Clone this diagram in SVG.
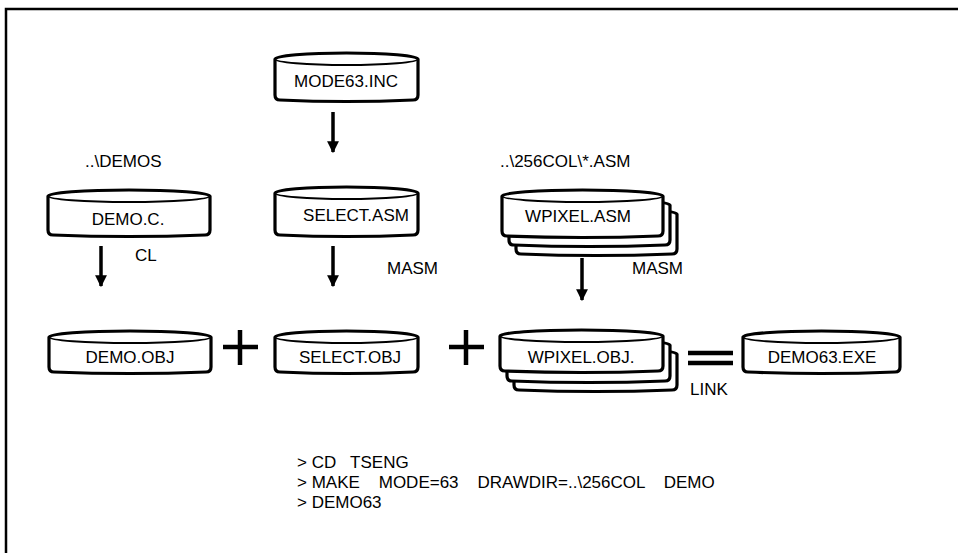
<svg xmlns="http://www.w3.org/2000/svg" width="961" height="553" viewBox="0 0 961 553">
<defs>
<style>
.disk{fill:#fff;stroke:#000;stroke-width:3.2;stroke-linejoin:round}
.rim{fill:none;stroke:#000;stroke-width:1.8}
.t{font-family:"Liberation Sans",Arial,sans-serif;font-size:17px;fill:#000}
.c{text-anchor:middle}
.ln{stroke:#000;stroke-width:3.5;fill:none}
.op{stroke:#000;stroke-width:4.5;fill:none}
.frame{stroke:#000;stroke-width:2.5;fill:none}
</style>
<marker id="ah" viewBox="0 0 10 10" refX="9" refY="5" markerWidth="3.4" markerHeight="3.6" orient="auto" markerUnits="strokeWidth">
<path d="M0,0 L10,5 L0,10 Z" fill="#000"/>
</marker>
</defs>
<rect width="961" height="553" fill="#fff"/>
<path class="frame" d="M6,553 L6,9 L958,9"/>

<g id="mode63inc">
<path class="disk" d="M275,59 A71.5,6 0 0 1 418,59 L418,95 Q418,100 413,100 Q346,103 280,100 Q275,100 275,95 Z"/>
<path class="rim" d="M275,59 A71.5,6 0 0 0 418,59"/>
<text class="t c" x="346" y="87">MODE63.INC</text>
</g>

<text class="t" x="85" y="167">..\DEMOS</text>
<text class="t" x="500" y="167">..\256COL\*.ASM</text>

<g id="democ">
<path class="disk" d="M48,196 A81,6 0 0 1 210,196 L210,230 Q210,235 205,235 Q129,238 53,235 Q48,235 48,230 Z"/>
<path class="rim" d="M48,196 A81,6 0 0 0 210,196"/>
<text class="t c" x="128" y="225">DEMO.C.</text>
</g>

<g id="selectasm">
<path class="disk" d="M275,193 A71.5,6 0 0 1 418,193 L418,230 Q418,235 413,235 Q346,238 280,235 Q275,235 275,230 Z"/>
<path class="rim" d="M275,193 A71.5,6 0 0 0 418,193"/>
<text class="t c" x="356" y="221">SELECT.ASM</text>
</g>

<g id="wpixelasm">
<path class="disk" d="M516,214 A80.5,6 0 0 1 677,214 L677,249 Q677,254 672,254 Q596,257 521,254 Q516,254 516,249 Z"/>
<path class="disk" d="M509,205 A80.5,6 0 0 1 670,205 L670,240 Q670,245 665,245 Q589,248 514,245 Q509,245 509,240 Z"/>
<path class="disk" d="M502,196 A80.5,6 0 0 1 663,196 L663,231 Q663,236 658,236 Q582,239 507,236 Q502,236 502,231 Z"/>
<path class="rim" d="M502,196 A80.5,6 0 0 0 663,196"/>
<text class="t c" x="578" y="222">WPIXEL.ASM</text>
</g>

<g id="demoobj">
<path class="disk" d="M49,337 A81,6 0 0 1 211,337 L211,367 Q211,372 206,372 Q130,375 54,372 Q49,372 49,367 Z"/>
<path class="rim" d="M49,337 A81,6 0 0 0 211,337"/>
<text class="t c" x="130" y="363">DEMO.OBJ</text>
</g>

<g id="selectobj">
<path class="disk" d="M275,337 A71.5,6 0 0 1 418,337 L418,367 Q418,372 413,372 Q346,375 280,372 Q275,372 275,367 Z"/>
<path class="rim" d="M275,337 A71.5,6 0 0 0 418,337"/>
<text class="t c" x="350" y="363">SELECT.OBJ</text>
</g>

<g id="wpixelobj">
<path class="disk" d="M514,354 A81.5,6 0 0 1 677,354 L677,385 Q677,390 672,390 Q596,393 519,390 Q514,390 514,385 Z"/>
<path class="disk" d="M507,345 A81.5,6 0 0 1 670,345 L670,376 Q670,381 665,381 Q589,384 512,381 Q507,381 507,376 Z"/>
<path class="disk" d="M500,336 A81.5,6 0 0 1 663,336 L663,366 Q663,371 658,371 Q582,374 505,371 Q500,371 500,366 Z"/>
<path class="rim" d="M500,336 A81.5,6 0 0 0 663,336"/>
<text class="t c" x="581" y="363">WPIXEL.OBJ.</text>
</g>

<g id="demo63exe">
<path class="disk" d="M743,337 A78.5,6 0 0 1 900,337 L900,367 Q900,372 895,372 Q821,375 748,372 Q743,372 743,367 Z"/>
<path class="rim" d="M743,337 A78.5,6 0 0 0 900,337"/>
<text class="t c" x="822" y="363">DEMO63.EXE</text>
</g>

<g id="connectors">
<line class="ln" x1="333" y1="112" x2="333" y2="152" marker-end="url(#ah)"/>
<line class="ln" x1="101" y1="246" x2="101" y2="286" marker-end="url(#ah)"/>
<line class="ln" x1="333" y1="246" x2="333" y2="286" marker-end="url(#ah)"/>
<line class="ln" x1="582" y1="258" x2="582" y2="300" marker-end="url(#ah)"/>
</g>

<g id="operators">
<path class="op" d="M223,347 L258,347 M240,330 L240,365"/>
<path class="op" d="M449,347 L484,347 M466,330 L466,365"/>
<path class="op" d="M688,353 L733,353 M688,363 L733,363"/>
</g>

<text class="t" x="135" y="261">CL</text>
<text class="t" x="387" y="274">MASM</text>
<text class="t" x="632" y="274">MASM</text>
<text class="t" x="690" y="395">LINK</text>

<g id="commands" class="t">
<text x="297" y="468" xml:space="preserve">&gt; CD   TSENG</text>
<text x="297" y="488" xml:space="preserve">&gt; MAKE    MODE=63    DRAWDIR=..\256COL    DEMO</text>
<text x="297" y="508">&gt; DEMO63</text>
</g>
</svg>
